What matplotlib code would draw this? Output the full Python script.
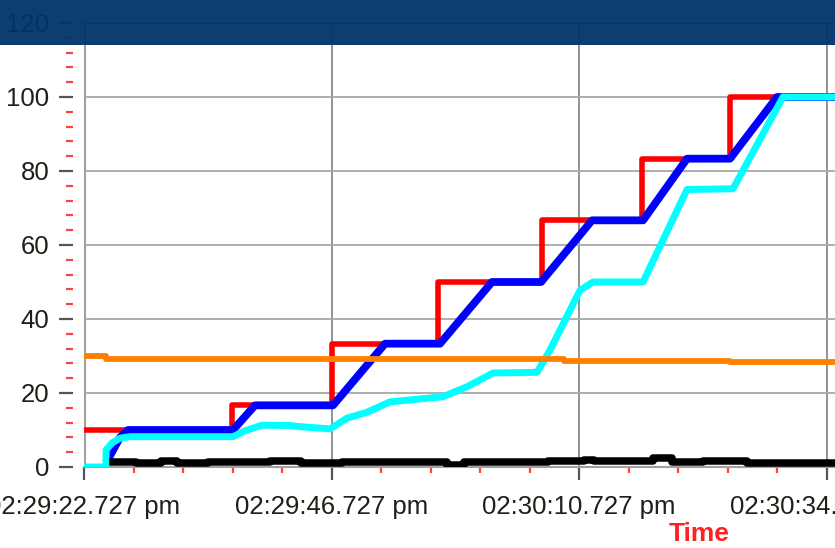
import numpy as np
import matplotlib
matplotlib.use("Agg")
import matplotlib.pyplot as plt
from matplotlib.patches import Rectangle
from matplotlib.ticker import MultipleLocator, FixedLocator

plt.rcParams["font.family"] = ["Liberation Sans", "DejaVu Sans"]

# seconds after 02:29:22.727 pm
X_MAX = 72.82
TICK_SECONDS = [0, 24, 48, 72]
TICK_LABELS = ["02:29:22.727 pm", "02:29:46.727 pm", "02:30:10.727 pm", "02:30:34.727 pm"]

# setpoint (red, stepped)
setpoint_t = [0.0, 14.35, 24.05, 34.3, 44.4, 54.1, 62.6, X_MAX]
setpoint_v = [10.0, 16.67, 33.33, 50.0, 66.67, 83.33, 100.0, 100.0]

# actual (blue)
actual_t = [2.33, 2.81, 3.49, 4.27, 14.45, 16.58, 24.15, 29.19, 34.52, 39.56,
            44.32, 49.26, 54.21, 58.47, 62.64, 67.2, X_MAX]
actual_v = [2.0, 4.5, 8.0, 10.0, 10.0, 16.67, 16.67, 33.33, 33.33, 50.0,
            50.0, 66.67, 66.67, 83.33, 83.33, 100.0, 100.0]

# second axis (cyan)
follow_t = [0.0, 2.13, 2.14, 2.72, 3.49, 4.46, 14.45, 15.61, 17.26, 19.98, 20.95,
            23.85, 25.5, 27.43, 29.67, 34.81, 37.14, 39.66, 43.93, 45.19, 48.1,
            49.36, 54.21, 58.47, 62.93, 67.78, X_MAX]
follow_v = [0.0, 0.0, 4.6, 6.5, 7.8, 8.2, 8.2, 9.8, 11.3, 11.2, 10.9,
            10.3, 13.2, 14.8, 17.6, 19.0, 21.7, 25.4, 25.6, 31.6, 47.8,
            50.0, 50.0, 75.0, 75.2, 100.0, 100.0]

# temperature (orange, stepped)
temp_t = [0.0, 2.1, 46.5, 62.6, X_MAX]
temp_v = [30.0, 29.2, 28.7, 28.3, 28.3]

# error (black, stepped)
err_t = [2.8, 5.0, 7.5, 9.0, 12.0, 15.0, 18.0, 21.0, 25.0, 30.0, 35.2, 36.8,
         40.0, 45.0, 48.5, 49.5, 52.0, 55.2, 57.0, 60.0, 64.3, 68.0, X_MAX]
err_v = [1.4, 1.2, 1.5, 1.1, 1.4, 1.4, 1.6, 1.2, 1.4, 1.4, 0.6, 1.4,
         1.4, 1.5, 2.0, 1.5, 1.5, 2.3, 1.4, 1.5, 1.0, 1.1, 1.0]

W, H = 835, 548
fig = plt.figure(figsize=(W / 100, H / 100), dpi=100)
ax = fig.add_axes([84 / W, (H - 467) / H, 1 - 84 / W, (467 - 23) / H])

ax.plot(setpoint_t, setpoint_v, color="#ff0000", lw=4.0, drawstyle="steps-post", zorder=3)
ax.plot(actual_t, actual_v, color="#0000ff", lw=5.6, zorder=4)
ax.plot(follow_t, follow_v, color="#00ffff", lw=5.0, zorder=5)
ax.plot(temp_t, temp_v, color="#ff8000", lw=4.2, drawstyle="steps-post", zorder=6)
ax.plot(err_t, err_v, color="#000000", lw=5.4, drawstyle="steps-post", zorder=7)

ax.set_xlim(0, X_MAX)
ax.set_ylim(0, 120)

ax.xaxis.set_major_locator(FixedLocator(TICK_SECONDS))
ax.set_xticklabels(TICK_LABELS)
ax.xaxis.set_minor_locator(MultipleLocator(4.8))
ax.yaxis.set_major_locator(MultipleLocator(20))
ax.yaxis.set_minor_locator(MultipleLocator(4))

ax.grid(True, which="major", axis="y", color="#a8a8a8", lw=1.3, zorder=1)
ax.grid(True, which="major", axis="x", color="#8a8a8a", lw=1.3, zorder=1)

# visible y axis line, ticks sit detached to the left of it
ax.axvline(0, color="#a0a0a0", lw=2.2, zorder=2)
ax.spines["left"].set_position(("outward", 8))
ax.spines["left"].set_visible(False)
ax.spines["right"].set_visible(False)
ax.spines["top"].set_color("#555555")
ax.spines["bottom"].set_color("#a0a0a0")
ax.spines["bottom"].set_linewidth(1.5)

ax.tick_params(axis="both", which="major", labelsize=18.5, labelcolor="#231d18",
               color="#555555", width=1.6, direction="out")
ax.tick_params(axis="y", which="major", length=10, pad=7)
ax.tick_params(axis="x", which="major", length=9.4, pad=11)
ax.tick_params(axis="both", which="minor", color="#ff4040", width=1.6, direction="out")
ax.tick_params(axis="y", which="minor", length=5)
ax.tick_params(axis="x", which="minor", length=4.5)

fig.text(699 / W, 1 - 534 / H, "Time", color="#ff2020", fontsize=19,
         fontweight="bold", ha="center", va="center")

# dark header band over the top of the chart
fig.add_artist(Rectangle((0, 1 - 45 / H), 1, 45 / H, transform=fig.transFigure,
                         facecolor="#00336a", alpha=0.95, edgecolor="none", zorder=20))

fig.savefig("out.png", dpi=100)
